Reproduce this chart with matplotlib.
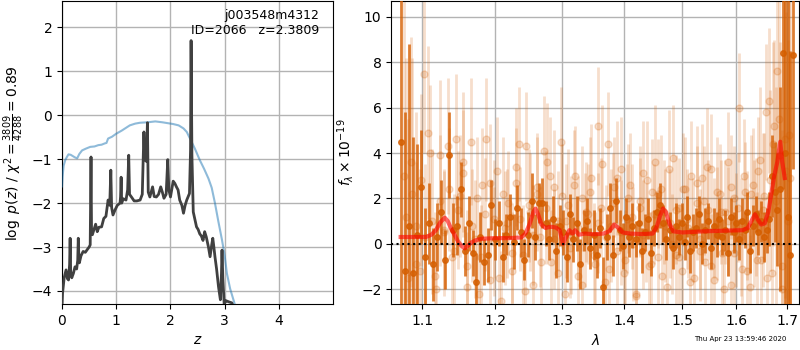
import numpy as np
import matplotlib
matplotlib.use("Agg")
import matplotlib.pyplot as plt
from matplotlib.ticker import FixedLocator, NullLocator

# ---------------- left panel data ----------------
z_pz = [0.00, 0.01, 0.04, 0.075, 0.10, 0.12, 0.14, 0.15, 0.16, 0.18, 0.21, 0.24, 0.27,
        0.29, 0.30, 0.31, 0.32, 0.35, 0.39, 0.43, 0.47, 0.50, 0.52, 0.535, 0.545, 0.56,
        0.59, 0.62, 0.65, 0.68, 0.73, 0.77, 0.81, 0.85, 0.88, 0.90, 0.915, 0.94, 0.98,
        1.02, 1.07, 1.08, 1.09, 1.10, 1.13, 1.18, 1.21, 1.23, 1.245, 1.28, 1.33, 1.38,
        1.44, 1.48, 1.51, 1.525, 1.535, 1.555, 1.575, 1.59, 1.62, 1.67, 1.70, 1.74,
        1.78, 1.82, 1.85, 1.88, 1.92, 1.95, 1.97, 2.00, 2.05, 2.08, 2.11, 2.14, 2.17,
        2.21, 2.24, 2.27, 2.30, 2.35, 2.37, 2.38, 2.395, 2.42, 2.48, 2.51, 2.54, 2.57,
        2.60, 2.63, 2.66, 2.70, 2.73, 2.76, 2.78, 2.80, 2.82, 2.85, 2.885, 2.92, 2.94,
        2.95, 2.965, 2.99, 3.02, 3.04, 3.08, 3.13, 3.16]
logp = [-4.35, -4.05, -3.70, -3.52, -3.72, -3.75, -3.40, -2.80, -3.55, -3.70, -3.60,
        -3.45, -3.50, -3.30, -2.80, -3.20, -3.36, -3.20, -3.10, -3.12, -3.05, -3.00,
        -2.95, -0.95, -2.70, -2.72, -2.60, -2.48, -2.65, -2.55, -2.54, -2.35, -2.30,
        -1.93, -2.05, -1.25, -2.10, -2.27, -2.15, -2.05, -2.00, -1.85, -1.41, -2.00,
        -1.90, -1.93, -1.70, -0.91, -1.80, -1.86, -1.95, -1.95, -1.93, -1.80, -0.38,
        -1.00, -1.02, -1.05, -0.17, -1.75, -1.86, -1.63, -1.85, -1.86, -1.80, -1.63,
        -1.75, -1.89, -1.80, -1.01, -1.70, -1.86, -1.50, -1.55, -1.63, -1.70, -1.93,
        -2.05, -2.23, -2.05, -1.93, -1.78, -0.80, 1.70, -0.90, -2.20, -2.54, -2.60,
        -2.70, -2.75, -2.85, -2.65, -2.77, -3.00, -3.22, -2.95, -2.80, -3.00, -3.22,
        -3.50, -3.90, -4.20, -3.60, -3.07, -3.70, -4.30, -4.22, -4.23, -4.25, -4.27,
        -4.35]

z_chi = [0.00, 0.01, 0.03, 0.06, 0.09, 0.12, 0.16, 0.20, 0.24, 0.28, 0.32, 0.37,
         0.44, 0.52, 0.60, 0.67, 0.73, 0.79, 0.82, 0.85, 0.92, 1.00, 1.10, 1.25,
         1.35, 1.44, 1.58, 1.72, 1.85, 1.95, 2.05, 2.15, 2.24, 2.30, 2.36, 2.45,
         2.54, 2.62, 2.70, 2.76, 2.82, 2.88, 2.95, 3.00, 3.04, 3.10, 3.18, 3.25]
chi_scaled = [-1.62, -1.40, -1.15, -1.02, -0.95, -0.89, -0.90, -0.93, -0.96, -0.98,
              -0.88, -0.80, -0.76, -0.72, -0.71, -0.68, -0.67, -0.64, -0.63, -0.53,
              -0.49, -0.42, -0.35, -0.23, -0.19, -0.17, -0.16, -0.14, -0.16, -0.18,
              -0.20, -0.23, -0.30, -0.38, -0.53, -0.76, -1.02, -1.22, -1.44, -1.65,
              -2.00, -2.40, -2.84, -3.20, -3.60, -3.95, -4.28, -4.70]

chi2_num, chi2_den, chi2_red = 3809, 4288, 0.89
root_name, obj_id, z_best = "j003548m4312", 2066, 2.3809

# ---------------- right panel data ----------------
dark_lam_range = (1.072, 1.712)
dark_flux = [4.5, -1.2, 0.8, -1.3, 0.4, 2.5, -0.6, 0.9, -0.9, 0.3,
             1.4, -0.7, 3.9, 0.6, 0.8, 2.4, -0.3, 0.9, -0.4, -1.7,
             0.3, -0.8, -0.5, 1.7, 0.2, 0.9, -0.6, 0.4, 1.2, 0.1,
             1.6, 0.5, -0.7, 0.4, 1.9, 0.3, 1.8, 1.8, 0.9, 0.2,
             1.1, -0.3, 0.8, 0.5, -0.6, 1.3, 0.2, 0.9, -0.9, 0.6,
             1.0, -0.2, 0.4, -0.5, 0.7, -1.9, 0.3, 1.6, -0.5, 1.9,
             0.6, -0.1, 1.2, 0.3, 0.8, 0.2, 0.9, -0.3, 0.5, 1.1,
             -0.4, 0.7, 1.4, 1.7, 0.9, 0.2, 0.6, -0.2, 0.8, 0.3,
             0.9, 0.1, 1.2, -0.3, 0.5, 0.7, 1.3, 0.0, 0.6, 1.0,
             -0.2, 0.8, 0.4, 1.1, 0.3, 0.6, -0.4, 1.2, 0.5, 0.9,
             0.2, 1.0, 0.6, 1.4, -0.3, 0.8, 1.3, 0.5, 1.0, 0.3,
             0.6, 1.1, 3.0, 2.3, 1.5, 2.4, 8.4, 4.0, 1.2, -0.5, 8.3]
dark_err = [9.0, 7.0, 8.0, 6.0, 4.0, 2.5, 2.2, 1.8, 1.6, 1.5,
            1.4, 1.3, 1.9, 1.2, 1.3, 1.2, 1.1, 1.2, 1.0, 1.3,
            1.1, 1.0, 1.2, 1.1, 0.9, 1.0, 1.1, 0.9, 1.0, 1.2,
            1.0, 1.1, 0.9, 1.0, 1.2, 1.0, 0.9, 1.1, 1.0, 0.9,
            1.0, 1.2, 0.9, 1.0, 1.1, 0.9, 1.0, 1.2, 1.1, 0.9,
            1.0, 0.9, 1.1, 1.0, 0.9, 1.3, 1.0, 1.1, 0.9, 1.0,
            0.9, 1.0, 0.8, 0.9, 1.0, 0.8, 0.9, 1.0, 0.8, 0.9,
            1.0, 0.8, 0.9, 1.0, 0.8, 0.9, 0.8, 0.9, 1.0, 0.8,
            0.9, 0.8, 0.9, 1.0, 0.8, 0.9, 0.8, 0.9, 1.0, 0.8,
            0.9, 0.8, 1.0, 0.9, 0.8, 0.9, 1.0, 0.8, 0.9, 0.8,
            0.9, 1.0, 0.8, 0.9, 1.0, 0.9, 0.8, 1.0, 0.9, 1.1,
            1.0, 1.2, 1.8, 2.2, 2.5, 4.5, 6.0, 9.0, 10.0, 9.0, 5.0]

light_lam_range = (1.076, 1.706)
light_flux = [3.0, -1.5, 2.2, 0.8, -1.2, 7.5, 4.9, 1.0, -2.0, 3.9,
              0.5, 4.3, -0.6, 4.6, 2.1, 3.6, -1.0, 4.5, 0.2, -2.2,
              2.6, 4.6, -1.6, 1.1, 3.2, -2.5, 0.7, 1.8, -1.2, 2.7,
              4.4, -0.5, 4.3, 1.4, -1.8, 2.2, 0.3, 4.1, 3.6, -0.8,
              2.5, 1.0, 4.5, -2.2, 1.7, 0.4, 3.0, -1.4, 2.0, 0.6,
              1.3, 2.9, -0.9, 5.2, 1.6, -1.7, 4.4, 0.8, 2.5, -0.3,
              3.3, -1.3, 1.1, 2.6, 0.0, -2.2, 1.9, 3.1, 0.5, -1.0,
              2.3, 3.6, -0.6, 2.4, 1.4, -1.9, 0.9, 3.8, -0.5, 1.6,
              -1.2, 2.4, 0.7, 3.0, -1.5, 1.8, 0.2, 2.9, -0.8, 1.5,
              3.3, -1.6, 0.9, 2.2, -0.4, 1.4, 3.6, -1.8, 2.0, 0.6,
              6.0, -1.1, 2.3, 0.8, -1.9, 2.6, 1.2, 3.2, -0.7, 2.1,
              5.8, 6.3, -1.3, 5.2, 7.6, 3.9, -2.0, 4.6, 1.0, 2.9]
light_err = [8.0, 7.0, 6.0, 5.0, 4.5, 3.5, 3.8, 3.2, 3.0, 3.3,
             2.8, 3.0, 2.6, 2.9, 2.7, 3.1, 2.5, 2.8, 2.6, 2.4,
             2.5, 2.7, 2.3, 2.6, 2.4, 2.2, 2.5, 2.3, 2.6, 2.4,
             2.5, 2.2, 2.4, 2.6, 2.3, 2.5, 2.2, 2.4, 2.6, 2.3,
             2.5, 2.2, 2.4, 2.3, 2.5, 2.6, 2.2, 2.4, 2.3, 2.5,
             2.2, 2.4, 2.3, 2.6, 2.2, 2.4, 2.3, 2.5, 2.2, 2.4,
             2.3, 2.2, 2.4, 2.3, 2.5, 2.2, 2.4, 2.3, 2.2, 2.4,
             2.3, 2.5, 2.2, 2.4, 2.3, 2.2, 2.4, 2.3, 2.5, 2.2,
             2.4, 2.3, 2.2, 2.4, 2.3, 2.5, 2.2, 2.4, 2.3, 2.2,
             2.4, 2.3, 2.5, 2.2, 2.4, 2.3, 2.2, 2.4, 2.3, 2.5,
             2.4, 2.3, 2.2, 2.4, 2.3, 2.5, 2.6, 2.4, 2.7, 2.8,
             3.0, 3.2, 3.5, 3.8, 4.5, 5.0, 6.0, 7.0, 8.0, 8.0]

light2_lam_range = (1.079, 1.703)
light2_flux = [1.2, 3.6, -0.9, 2.8, 0.3, 4.0, -1.4, 1.9, 0.6, 2.4,
               -0.3, 1.5, 3.1, -1.9, 0.8, 2.0, -0.6, 1.3, 2.7, 0.1,
               -1.5, 2.2, 0.9, -0.4, 3.4, 1.1, -2.1, 1.7, 0.4, 2.5,
               -0.8, 1.6, 3.0, 0.2, -1.3, 2.1, 1.0, -0.2, 2.6, 0.7,
               -1.8, 1.4, 2.3, -0.5, 0.9, 3.5, 0.3, -1.1, 1.8, 2.9,
               0.5, -0.7, 2.0, 1.2, -2.3, 1.6, 0.4, 2.8, -0.9, 1.3,
               2.2, -1.4, 0.8, 3.3, 0.0, 1.5, -0.6, 2.4, 1.1, -1.7,
               0.6, 2.7, -0.3, 1.9, 3.4, -1.0, 0.7, 2.3, 1.4, -2.0,
               1.0, 2.5, -0.4, 1.6, 0.3, 3.0, -1.2, 2.2, 0.9, -0.7,
               3.7, 1.5, -1.5, 2.8, 4.4, 1.9, 5.5, -1.0, 3.2, 4.8]
light2_err = [7.0, 5.5, 4.5, 3.8, 3.2, 3.0, 2.8, 2.9, 2.6, 2.7,
              2.5, 2.6, 2.8, 2.4, 2.5, 2.7, 2.3, 2.5, 2.6, 2.4,
              2.3, 2.5, 2.4, 2.2, 2.6, 2.3, 2.4, 2.5, 2.2, 2.4,
              2.3, 2.5, 2.6, 2.2, 2.4, 2.3, 2.5, 2.2, 2.4, 2.3,
              2.5, 2.2, 2.4, 2.3, 2.2, 2.6, 2.3, 2.4, 2.2, 2.5,
              2.3, 2.2, 2.4, 2.3, 2.5, 2.2, 2.4, 2.6, 2.3, 2.2,
              2.4, 2.3, 2.5, 2.6, 2.2, 2.4, 2.3, 2.5, 2.2, 2.4,
              2.3, 2.5, 2.2, 2.4, 2.6, 2.3, 2.2, 2.4, 2.3, 2.5,
              2.4, 2.3, 2.5, 2.4, 2.6, 2.5, 2.7, 2.6, 2.8, 3.0,
              3.2, 3.4, 3.6, 4.0, 4.5, 5.0, 5.5, 6.0, 7.0, 8.0]

model_lam = [1.072, 1.090, 1.105, 1.112, 1.118, 1.124, 1.130, 1.134, 1.138, 1.143,
             1.148, 1.153, 1.157, 1.161, 1.166, 1.172, 1.180, 1.200, 1.220, 1.238,
             1.244, 1.250, 1.256, 1.259, 1.263, 1.268, 1.274, 1.282, 1.290, 1.296,
             1.301, 1.306, 1.311, 1.316, 1.320, 1.326, 1.335, 1.350, 1.365, 1.375,
             1.383, 1.390, 1.397, 1.410, 1.430, 1.448, 1.455, 1.461, 1.466, 1.471,
             1.477, 1.484, 1.500, 1.540, 1.580, 1.612, 1.622, 1.630, 1.636, 1.642,
             1.648, 1.655, 1.662, 1.668, 1.674, 1.680, 1.686, 1.690, 1.695]
model_flux = [0.30, 0.30, 0.30, 0.40, 0.60, 0.95, 1.15, 1.00, 0.70, 0.40,
              0.10, -0.10, -0.20, -0.10, 0.05, 0.15, 0.22, 0.25, 0.25, 0.28,
              0.45, 0.85, 1.40, 1.55, 1.30, 0.85, 0.70, 0.75, 0.72, 0.60,
              0.00, 0.30, 0.60, 0.45, 0.60, 0.40, 0.45, 0.42, 0.45, 0.55,
              0.85, 0.70, 0.50, 0.45, 0.43, 0.45, 0.75, 1.25, 1.55, 1.40,
              0.90, 0.55, 0.50, 0.55, 0.58, 0.60, 0.70, 1.05, 1.30, 1.05,
              0.85, 0.90, 1.40, 2.20, 3.00, 3.60, 4.50, 3.60, 2.90]

lam_ticks = [1.1, 1.2, 1.3, 1.4, 1.5, 1.6, 1.7]
date_stamp = "Thu Apr 23 13:59:46 2020"

# ---------------- figure ----------------
fig = plt.figure(figsize=(8, 3.5), dpi=100)
ax1 = fig.add_axes([0.0775, 0.131, 0.339, 0.866])
ax2 = fig.add_axes([0.489, 0.131, 0.510, 0.866])

ax1.plot(z_chi, chi_scaled, color='tab:blue', alpha=0.5, lw=1.5, zorder=3)
ax1.plot(z_pz, logp, color='0.25', lw=2, zorder=4)
ax1.set_xlim(0, 5.0)
ax1.set_ylim(-4.3, 2.6)
ax1.set_xticks([0, 1, 2, 3, 4])
ax1.set_yticks([-4, -3, -2, -1, 0, 1, 2])
ax1.grid(True, color='0.7', lw=1)
ax1.set_axisbelow(True)
ax1.set_xlabel(r'$z$')
ax1.set_ylabel(r'$\log\ p(z)$ / $\chi^2=\frac{%d}{%d}=%.2f$' % (chi2_num, chi2_den, chi2_red))
ax1.text(0.95, 0.975, '%s\nID=%d   z=%.4f' % (root_name, obj_id, z_best),
         transform=ax1.transAxes, ha='right', va='top', fontsize=9, zorder=10)

dark_lam = np.linspace(dark_lam_range[0], dark_lam_range[1], len(dark_flux))
light_lam = np.linspace(light_lam_range[0], light_lam_range[1], len(light_flux))
light2_lam = np.linspace(light2_lam_range[0], light2_lam_range[1], len(light2_flux))
col = '#d55e00'
ax2.errorbar(light_lam, light_flux, yerr=light_err, fmt='o', color=col, alpha=0.2,
             ms=5, lw=2, zorder=2)
ax2.errorbar(light2_lam, light2_flux, yerr=light2_err, fmt='o', color=col, alpha=0.2,
             ms=5, lw=2, zorder=2)
ax2.errorbar(dark_lam, dark_flux, yerr=dark_err, fmt='o', color=col, alpha=0.8,
             ms=4, lw=2, zorder=3)
ax2.plot(model_lam, model_flux, color='red', alpha=0.6, lw=3, zorder=5)
ax2.axhline(0, color='k', ls=':', lw=1.5, zorder=6)
ax2.set_xscale('log')
ax2.set_xlim(1.06, 1.7245)
ax2.set_ylim(-2.66, 10.7)
ax2.xaxis.set_major_locator(FixedLocator(lam_ticks))
ax2.xaxis.set_minor_locator(NullLocator())
ax2.set_xticklabels(['%.1f' % t for t in lam_ticks])
ax2.set_yticks([-2, 0, 2, 4, 6, 8, 10])
ax2.grid(True, color='0.7', lw=1)
ax2.set_axisbelow(True)
ax2.set_xlabel(r'$\lambda$')
ax2.set_ylabel(r'$f_\lambda\times10^{-19}$')

fig.text(0.983, 0.03, date_stamp, ha='right', va='center', fontsize=5)

fig.savefig('out.png', dpi=100)
